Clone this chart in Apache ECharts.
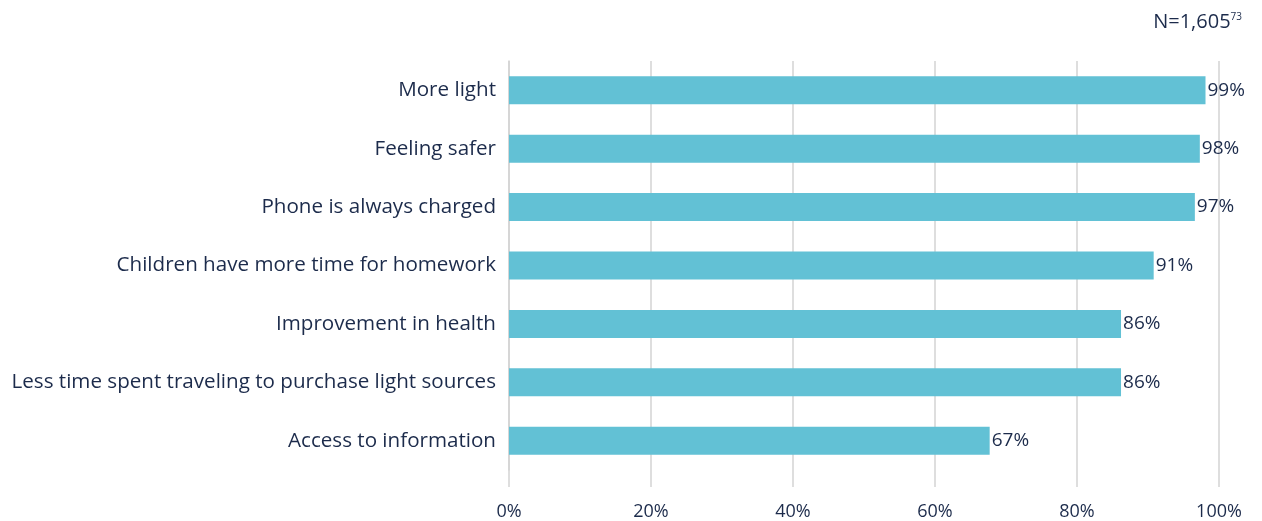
<!DOCTYPE html>
<html>
<head>
<meta charset="utf-8">
<script src="https://cdn.jsdelivr.net/npm/echarts@6/dist/echarts.min.js"></script>
<style>
  html, body { margin: 0; padding: 0; background: #fff; }
  #chart { width: 1262px; height: 521px; }
</style>
</head>
<body>
<div id="chart"></div>
<script>
const categories = [
    'More light',
    'Feeling safer',
    'Phone is always charged',
    'Children have more time for homework',
    'Improvement in health',
    'Less time spent traveling to purchase light sources',
    'Access to information'
];
// bar lengths (percent)
const values = [98.1, 97.3, 96.6, 90.8, 86.2, 86.2, 67.7];
// labels printed next to the bars
const valueLabels = ['99%', '98%', '97%', '91%', '86%', '86%', '67%'];
const xTicks = [0, 20, 40, 60, 80, 100];

const textColor = '#1c2b4b';
const font = 'Open Sans';

const chart = echarts.init(document.getElementById('chart'));

chart.setOption({
    animation: false,
    textStyle: { fontFamily: font },
    grid: { left: 509, right: 43, top: 61, bottom: 49, containLabel: false },
    graphic: [{
        type: 'text',
        right: 20,
        top: 12,
        style: {
            text: '{n|N=1,605}{s|73}',
            rich: {
                n: { fontFamily: font, fontSize: 20, fill: textColor },
                s: { fontFamily: font, fontSize: 10, fill: textColor, verticalAlign: 'top', padding: [0, 0, 9, 0] }
            }
        }
    }],
    xAxis: {
        type: 'value',
        min: xTicks[0],
        max: xTicks[xTicks.length - 1],
        interval: 20,
        axisLine: { show: false },
        axisTick: { show: true, length: 17, lineStyle: { color: '#d3d3d3', width: 1.5 } },
        splitLine: { show: true, lineStyle: { color: '#d3d3d3', width: 1.5 } },
        axisLabel: {
            margin: 33,
            fontSize: 18,
            color: textColor,
            formatter: v => v + '%'
        }
    },
    yAxis: {
        type: 'category',
        inverse: true,
        data: categories,
        axisLine: { show: true, lineStyle: { color: '#d3d3d3', width: 1.5 } },
        axisTick: { show: false },
        axisLabel: { margin: 13, fontSize: 20.6, color: textColor }
    },
    series: [{
        type: 'bar',
        data: values,
        barWidth: 28,
        itemStyle: { color: '#62c1d5' },
        label: {
            show: true,
            position: 'right',
            distance: 2,
            fontSize: 19,
            color: textColor,
            formatter: p => valueLabels[p.dataIndex]
        }
    }]
});

new ResizeObserver(() => chart.resize()).observe(document.getElementById('chart'));
</script>
</body>
</html>
